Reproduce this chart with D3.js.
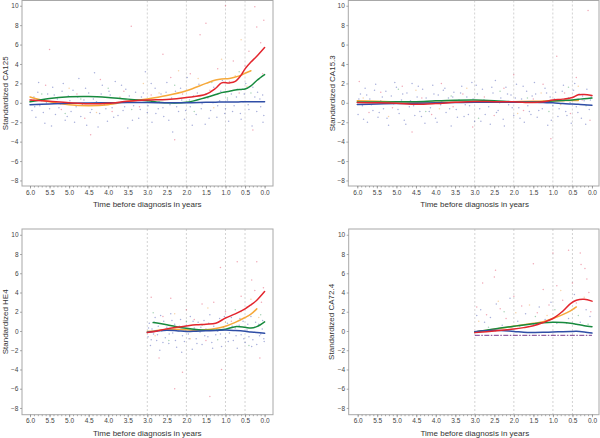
<!DOCTYPE html>
<html><head><meta charset="utf-8">
<script src="https://cdn.jsdelivr.net/npm/d3@7"></script>
<style>body{margin:0;background:#fff}svg{display:block}text{font-family:"Liberation Sans",Arial,sans-serif}</style>
</head><body><svg id="c" width="600" height="438"></svg>
<script>
// ---------- data ----------
const xTickValues = [6.0,5.5,5.0,4.5,4.0,3.5,3.0,2.5,2.0,1.5,1.0,0.5,0.0];
const yTickValues = [-8,-6,-4,-2,0,2,4,6,8,10];
const refLines = [3.0,2.0,1.0,0.5];
const xTitle = "Time before diagnosis in years";
const markerNames = ["Standardized CA125","Standardized CA15.3","Standardized HE4","Standardized CA72.4"];

// CA125
const ca125Time   = [6.0,5.5,5.0,4.5,4.0,3.5,3.0,2.5,2.0,1.5,1.25,1.1,0.9,0.75,0.6,0.5,0.35,0.2,0.0];
const ca125Red    = [0.3,0.15,0.0,-0.1,-0.05,0.15,0.28,0.35,0.55,0.88,1.5,2.05,2.05,2.2,2.85,3.5,4.2,4.8,5.7];
const ca125Orange = [0.6,0.1,-0.2,-0.3,-0.2,0.15,0.4,0.75,1.25,2.0,2.35,2.45,2.5,2.65,2.85,3.05,3.3,null,null];
const ca125Green  = [0.1,0.45,0.62,0.65,0.55,0.38,0.2,0.0,0.05,0.55,0.85,1.05,1.2,1.32,1.38,1.42,1.75,2.3,2.9];
const ca125Blue   = [-0.2,-0.12,-0.05,-0.02,0.0,0.02,0.03,0.0,0.0,0.05,0.07,0.08,0.08,0.08,0.1,0.1,0.1,0.12,0.12];
const ca125DotsBlue = [[5.95,-0.8],[5.9,0.6],[5.85,-1.5],[5.8,1.1],[5.75,-0.3],[5.7,0.2],[5.62,-2.1],[5.55,0.9],[5.5,-0.6],[5.42,1.6],[5.35,-1.2],[5.3,0.4],[5.22,-0.1],[5.15,2.0],[5.1,-1.8],[5.02,0.7],[4.95,-0.9],[4.9,1.3],[4.82,-0.4],[4.75,2.5],[4.7,-1.4],[4.62,0.3],[4.55,-2.3],[4.5,1.0],[4.42,-0.7],[4.35,3.1],[4.3,0.1],[4.22,-1.1],[4.15,1.8],[4.1,-0.2],[4.02,-1.9],[3.95,0.8],[3.9,-0.5],[3.82,2.2],[3.75,-1.3],[3.7,0.5],[3.62,-0.8],[3.55,1.4],[3.5,-2.6],[3.42,0.2],[3.35,-0.3],[3.3,1.1],[3.22,-1.6],[3.15,0.6],[3.05,3.2],[3.0,-1.0],[2.95,0.4],[2.88,-2.0],[2.8,1.5],[2.72,-0.6],[2.65,0.9],[2.58,-1.4],[2.5,2.1],[2.42,-0.2],[2.35,-3.0],[2.28,1.2],[2.2,-0.9],[2.12,0.3],[2.05,-1.7],[1.98,2.6],[1.9,-0.4],[1.82,0.7],[1.75,-1.2],[1.68,1.9],[1.6,-0.1],[1.52,-2.2],[1.45,0.5],[1.38,-0.8],[1.3,1.6],[1.22,-1.5],[1.15,0.2],[1.08,2.3],[1.0,-0.6],[0.92,-1.9],[0.85,0.9],[0.78,-0.3],[0.7,1.4],[0.62,-1.1],[0.55,0.1],[0.48,2.0],[0.4,-0.7],[0.32,-2.4],[0.25,0.6],[0.18,1.1],[0.1,-0.4],[0.05,0.8],[0.02,-1.3],
  [5.97,0.3],[5.88,-0.4],[5.78,2.1],[5.66,-1.0],[5.58,0.0],[5.45,-2.4],[5.38,0.8],[5.26,-0.5],[5.18,1.2],[5.05,-1.4],[4.98,0.2],[4.86,-2.0],[4.78,0.6],[4.66,-0.2],[4.58,1.5],[4.46,-1.0],[4.38,0.4],[4.26,-2.5],[4.18,0.9],[4.06,-0.6],[3.98,1.2],[3.86,-1.5],[3.78,0.0],[3.66,1.8],[3.58,-0.4],[3.46,0.7],[3.38,-1.8],[3.26,0.3],[3.18,-0.7],[3.1,1.0],[2.98,-0.3],[2.9,2.0],[2.78,-1.1],[2.7,0.1],[2.6,-0.5],[2.52,1.1],[2.45,-1.8],[2.38,0.5],[2.25,-0.4],[2.15,1.5],[2.02,-0.8],[1.92,0.3],[1.85,-2.3],[1.72,1.0],[1.62,-0.6],[1.5,0.9],[1.42,-1.6],[1.32,0.0],[1.2,-0.3],[1.12,1.2],[1.02,-1.1],[0.95,0.3],[0.82,-0.9],[0.72,0.6],[0.6,-1.7],[0.52,0.9],[0.42,-0.2],[0.3,1.6],[0.2,-0.9],[0.12,0.4],[0.04,-2.0]];
const ca125DotsRed = [[5.9,0.3],[5.6,1.8],[5.5,5.5],[5.2,-0.7],[4.8,0.9],[4.6,-1.6],[4.45,-3.3],[4.2,2.4],[3.9,-0.9],[3.6,1.2],[3.41,7.9],[3.2,-0.4],[2.9,0.8],[2.6,5.0],[2.4,2.6],[2.3,-3.8],[2.1,0.9],[1.9,3.0],[1.65,7.0],[1.5,8.2],[1.4,1.3],[1.2,3.5],[1.0,10.0],[0.9,2.2],[0.8,4.3],[0.65,1.0],[0.5,3.8],[0.4,5.3],[0.3,-2.8],[0.25,9.9],[0.2,7.8],[0.1,6.2],[0.05,3.0],[0.02,8.5]];
const ca125DotsOrange = [[5.8,-0.2],[5.0,1.5],[4.3,-1.0],[3.7,0.6],[3.1,2.0],[2.7,1.0],[2.2,3.3],[1.7,2.5],[1.3,-0.5],[1.1,4.5],[0.75,2.8],[0.6,6.5],[0.45,1.7]];
const ca125DotsGreen = [[5.7,0.9],[5.1,-1.1],[4.7,0.4],[4.0,1.5],[3.4,-0.7],[2.8,0.1],[2.3,1.8],[1.8,-0.9],[1.35,2.1],[0.95,0.5],[0.65,3.2],[0.35,1.0],[0.15,2.4]];

// CA15.3
const ca153Time   = [6.0,5.5,5.0,4.5,4.0,3.5,3.0,2.5,2.0,1.5,1.25,1.0,0.75,0.5,0.35,0.2,0.0];
const ca153Red    = [0.03,0.0,-0.05,-0.15,-0.08,0.05,0.14,0.12,0.1,0.02,0.1,0.28,0.38,0.55,0.82,0.85,0.75];
const ca153Orange = [0.22,0.15,0.1,0.07,0.05,0.05,0.08,0.1,0.12,0.16,0.18,0.2,0.22,0.24,0.25,null,null];
const ca153Green  = [0.08,0.08,0.1,0.12,0.2,0.26,0.28,0.22,0.12,0.08,0.12,0.18,0.24,0.3,0.36,0.42,0.5];
const ca153Blue   = [-0.17,-0.12,-0.08,-0.05,0.0,0.03,0.06,0.05,0.07,0.05,0.02,0.0,-0.08,-0.13,-0.16,-0.2,-0.25];
const ca153DotsBlue = [[5.98,-1.2],[5.92,0.9],[5.87,-0.3],[5.8,1.5],[5.74,-2.0],[5.68,0.4],[5.6,-0.8],[5.53,1.9],[5.47,-1.5],[5.4,0.2],[5.33,-0.6],[5.27,1.2],[5.2,-2.3],[5.13,0.7],[5.07,-0.1],[5.0,1.6],[4.93,-1.1],[4.87,0.3],[4.8,-1.8],[4.73,1.0],[4.67,-0.4],[4.6,2.0],[4.53,-1.3],[4.47,0.6],[4.4,-0.9],[4.33,1.4],[4.27,-2.1],[4.2,0.1],[4.13,-0.5],[4.07,1.8],[4.0,-1.6],[3.93,0.8],[3.87,-0.2],[3.8,1.3],[3.73,-1.0],[3.67,0.5],[3.6,-2.4],[3.53,1.1],[3.47,-0.7],[3.4,0.3],[3.33,1.7],[3.27,-1.4],[3.2,0.6],[3.13,-0.3],[3.07,2.1],[3.0,-1.9],[2.93,0.9],[2.87,-0.6],[2.8,1.4],[2.73,-1.2],[2.67,0.2],[2.6,-2.2],[2.53,1.0],[2.47,2.3],[2.4,-0.8],[2.33,0.5],[2.27,-1.7],[2.2,1.6],[2.13,-0.2],[2.07,0.8],[2.0,-1.3],[1.93,1.9],[1.87,-0.5],[1.8,0.4],[1.73,-2.0],[1.67,1.2],[1.6,-0.9],[1.53,0.7],[1.47,2.1],[1.4,-1.5],[1.33,0.1],[1.27,-0.6],[1.2,1.5],[1.13,-2.3],[1.07,0.6],[1.0,-0.3],[0.93,1.1],[0.87,-1.4],[0.8,0.3],[0.73,1.8],[0.67,-0.9],[0.6,0.5],[0.53,-2.1],[0.47,1.3],[0.4,-0.4],[0.33,0.9],[0.27,-1.6],[0.2,0.2],[0.13,1.4],[0.07,-0.7],[0.02,0.6],
  [5.96,0.4],[5.84,-1.7],[5.76,0.8],[5.64,-0.2],[5.56,1.3],[5.44,-1.0],[5.36,0.6],[5.24,-1.6],[5.16,0.0],[5.04,2.1],[4.96,-0.7],[4.84,0.9],[4.76,-2.2],[4.64,0.2],[4.56,-0.3],[4.44,1.7],[4.36,-1.4],[4.24,0.5],[4.16,-0.9],[4.04,0.9],[3.96,-2.0],[3.84,0.1],[3.76,1.5],[3.64,-0.6],[3.56,0.6],[3.44,-1.5],[3.36,1.0],[3.24,-0.2],[3.16,-1.2],[3.04,0.4],[2.96,1.8],[2.84,-1.9],[2.76,0.3],[2.64,-0.4],[2.56,1.6],[2.44,-1.0],[2.36,0.0],[2.24,-2.4],[2.16,0.9],[2.04,-0.5],[1.96,0.5],[1.84,-1.6],[1.76,1.7],[1.64,-0.3],[1.56,-1.2],[1.44,0.9],[1.36,-0.8],[1.24,0.2],[1.16,1.0],[1.04,-1.8],[0.96,0.4],[0.84,-0.6],[0.76,1.2],[0.64,-1.3],[0.56,0.0],[0.44,2.0],[0.36,-1.0],[0.24,0.7],[0.16,-2.2],[0.04,0.3]];
const ca153DotsRed = [[5.95,2.2],[5.7,-1.0],[5.4,1.1],[5.1,-0.5],[4.85,1.7],[4.6,-3.0],[4.35,0.5],[4.1,-1.2],[3.85,2.0],[3.55,-0.4],[3.3,0.9],[3.05,-2.5],[2.75,0.6],[2.5,-1.3],[2.25,1.5],[2.0,2.9],[1.75,-0.8],[1.5,0.4],[1.25,1.9],[1.05,-3.7],[0.9,4.8],[0.7,1.0],[0.55,-1.1],[0.4,2.6],[0.25,0.3],[0.1,9.5],[0.05,-1.8]];
const ca153DotsOrange = [[5.85,0.5],[5.2,-1.4],[4.5,1.3],[3.9,-0.6],[3.2,1.5],[2.6,0.1],[1.9,-1.1],[1.3,1.0],[0.8,-0.2],[0.35,1.7]];
const ca153DotsGreen = [[5.6,0.0],[4.95,1.4],[4.25,-0.9],[3.6,0.7],[2.9,-1.6],[2.35,1.2],[1.65,0.5],[1.1,-0.9],[0.6,1.6],[0.15,-0.3]];

// HE4
const he4Time   = [3.0,2.85,2.75,2.5,2.25,2.0,1.75,1.5,1.25,1.0,0.75,0.5,0.35,0.2,0.0];
const he4Red    = [-0.17,-0.08,0.0,0.22,0.38,0.52,0.64,0.7,0.8,1.35,1.78,2.3,2.72,3.2,4.1];
const he4Orange = [-0.05,0.0,0.05,0.15,0.17,0.12,0.08,0.12,0.25,0.5,0.9,1.4,1.75,2.3,null];
const he4Green  = [null,0.87,0.82,0.65,0.45,0.28,0.15,0.08,0.08,0.18,0.45,0.38,0.3,0.45,0.95];
const he4Blue   = [-0.14,-0.05,0.0,0.08,0.03,-0.05,-0.02,0.02,0.05,0.1,0.05,-0.03,-0.1,-0.15,-0.24];
const he4DotsBlue = [[2.98,-0.6],[2.95,0.8],[2.92,-1.5],[2.88,0.2],[2.84,-0.3],[2.8,1.4],[2.76,-1.0],[2.72,0.5],[2.68,-2.0],[2.63,0.0],[2.58,1.0],[2.54,-0.7],[2.5,0.4],[2.45,-1.3],[2.4,1.8],[2.35,-0.2],[2.3,0.7],[2.25,-1.7],[2.2,0.1],[2.15,1.2],[2.1,-0.5],[2.05,-1.1],[2.0,0.6],[1.95,-0.3],[1.9,1.5],[1.85,-1.9],[1.8,0.3],[1.75,-0.8],[1.7,0.9],[1.65,-0.1],[1.6,-1.4],[1.55,1.1],[1.5,0.2],[1.45,-0.6],[1.4,1.7],[1.35,-1.2],[1.3,0.5],[1.25,-0.4],[1.2,0.0],[1.15,1.3],[1.1,-1.6],[1.05,0.4],[1.0,-0.7],[0.95,0.8],[0.9,-0.2],[0.85,1.4],[0.8,-1.0],[0.75,0.3],[0.7,-1.8],[0.65,0.6],[0.6,-0.4],[0.55,1.0],[0.5,-1.2],[0.45,0.1],[0.4,-0.6],[0.35,1.5],[0.3,-0.9],[0.25,0.4],[0.2,-1.4],[0.15,0.7],[0.1,-0.3],[0.05,1.1],[0.02,-0.8],
  [2.97,0.3],[2.9,-0.9],[2.82,0.9],[2.74,-0.4],[2.66,1.6],[2.6,-1.2],[2.52,0.2],[2.44,-0.3],[2.37,1.1],[2.28,-1.0],[2.18,0.5],[2.12,-2.2],[2.02,0.0],[1.93,-0.8],[1.83,1.0],[1.73,-1.3],[1.63,0.4],[1.53,-0.5],[1.43,0.8],[1.33,-1.8],[1.23,0.2],[1.13,-0.3],[1.03,1.5],[0.93,-1.1],[0.83,0.5],[0.73,-0.5],[0.63,1.3],[0.53,-0.8],[0.43,0.7],[0.33,-1.6],[0.23,0.9],[0.13,-0.5],[0.06,0.2],[0.01,-1.1]];
const he4DotsRed = [[2.9,3.5],[2.7,-2.8],[2.6,1.5],[2.4,3.4],[2.3,-6.0],[2.1,-4.3],[2.0,2.2],[1.8,1.2],[1.6,2.8],[1.5,-1.0],[1.4,-6.8],[1.3,3.0],[1.13,6.6],[1.1,-4.0],[1.0,2.0],[0.85,1.0],[0.7,7.2],[0.6,3.6],[0.45,2.5],[0.33,5.3],[0.25,4.2],[0.2,7.2],[0.12,-2.8],[0.08,3.0],[0.03,4.5]];
const he4DotsOrange = [[2.8,-0.5],[2.3,1.8],[1.9,-0.8],[1.45,2.4],[1.0,0.9],[0.6,2.0],[0.35,3.3],[0.15,1.4]];
const he4DotsGreen = [[2.85,1.9],[2.45,-1.0],[2.0,1.0],[1.6,0.6],[1.2,-0.9],[0.75,2.2],[0.4,-1.5],[0.1,1.7]];

// CA72.4
const ca724Time   = [3.0,2.5,2.0,1.75,1.5,1.25,1.0,0.75,0.55,0.4,0.2,0.0];
const ca724Red    = [-0.17,0.0,0.2,0.35,0.55,0.88,1.3,2.05,2.85,3.2,3.3,3.1];
const ca724Orange = [-0.1,0.18,0.5,0.65,0.8,0.95,1.3,1.7,2.1,2.5,null,null];
const ca724Green  = [-0.1,0.22,0.5,0.62,0.75,0.86,0.9,0.88,0.8,0.7,0.55,0.45];
const ca724Blue   = [-0.07,0.08,-0.05,-0.13,-0.15,-0.14,-0.1,-0.08,-0.05,-0.03,-0.1,-0.22];
const ca724LimitTime = [3.0,0.0];
const ca724Limit = [-0.45,-0.45];
const ca724DotsBlue = [[2.95,1.6],[2.85,2.2],[2.75,0.9],[2.6,1.4],[2.45,2.8],[2.3,0.6],[2.1,3.4],[1.9,1.0],[1.7,1.8],[1.5,0.7],[1.35,2.5],[1.2,1.2],[1.05,3.0],[0.9,0.8],[0.75,2.0],[0.6,1.3],[0.45,3.8],[0.3,0.9],[0.15,2.2],[0.05,1.5]];
const ca724DotsRed = [[2.95,2.5],[2.8,5.0],[2.7,1.7],[2.5,5.6],[2.47,6.3],[2.35,2.3],[2.2,1.3],[2.0,3.6],[1.8,2.6],[1.5,7.0],[1.4,1.9],[1.25,4.3],[1.1,2.7],[1.0,8.1],[0.9,4.7],[0.75,3.2],[0.6,8.4],[0.5,5.0],[0.4,2.9],[0.3,8.1],[0.28,6.9],[0.18,6.5],[0.13,5.4],[0.08,4.0],[0.03,2.0]];
const ca724DotsOrange = [[2.9,1.0],[2.4,3.1],[1.95,1.9],[1.6,2.7],[1.15,1.6],[0.8,4.2],[0.45,2.3],[0.2,3.5]];
const ca724DotsGreen = [[2.65,0.4],[2.25,2.0],[1.85,0.5],[1.45,1.5],[0.95,2.2],[0.65,0.8],[0.35,1.6],[0.1,0.7]];

// ---------- styling / layout ----------
const colors = {red:"#e3262e", orange:"#f6a93b", green:"#178a3e", blue:"#2f4ea6"};
const dotColors = {red:"#e04060", orange:"#f0a040", green:"#40a060", blue:"#4050b0"};

const panels = [
  {name:markerNames[0], x0:22, x1:273, y0:0.5, y1:186, xd:[6.205,-0.215], yd:[-8.57,10.54], labelX:8, time:ca125Time,
   lines:{orange:ca125Orange, green:ca125Green, blue:ca125Blue, red:ca125Red},
   dots:{blue:ca125DotsBlue, green:ca125DotsGreen, orange:ca125DotsOrange, red:ca125DotsRed}},
  {name:markerNames[1], x0:348.3, x1:599, y0:0.5, y1:186, xd:[6.23,-0.18], yd:[-8.57,10.54], labelX:334.5, time:ca153Time,
   lines:{orange:ca153Orange, green:ca153Green, blue:ca153Blue, red:ca153Red},
   dots:{blue:ca153DotsBlue, green:ca153DotsGreen, orange:ca153DotsOrange, red:ca153DotsRed}},
  {name:markerNames[2], x0:22, x1:273, y0:229, y1:414.7, xd:[6.205,-0.215], yd:[-8.7,10.6], labelX:8, time:he4Time,
   lines:{orange:he4Orange, green:he4Green, blue:he4Blue, red:he4Red},
   dots:{blue:he4DotsBlue, green:he4DotsGreen, orange:he4DotsOrange, red:he4DotsRed}},
  {name:markerNames[3], x0:348.7, x1:599, y0:229, y1:414.7, xd:[6.23,-0.18], yd:[-8.7,10.6], labelX:333.5, time:ca724Time,
   lines:{orange:ca724Orange, green:ca724Green, blue:ca724Blue, red:ca724Red},
   dots:{blue:ca724DotsBlue, green:ca724DotsGreen, orange:ca724DotsOrange, red:ca724DotsRed},
   limit:{t:ca724LimitTime, v:ca724Limit}}
];

const svg = d3.select("#c");
svg.append("rect").attr("width",600).attr("height",438).attr("fill","#fff");

panels.forEach((p,i)=>{
  const x = d3.scaleLinear().domain(p.xd).range([p.x0,p.x1]);
  const y = d3.scaleLinear().domain(p.yd).range([p.y1,p.y0]);
  const g = svg.append("g");
  const cid = "clip"+i;
  g.append("clipPath").attr("id",cid).append("rect")
    .attr("x",p.x0).attr("y",p.y0).attr("width",p.x1-p.x0).attr("height",p.y1-p.y0);

  // reference lines
  g.selectAll(".ref").data(refLines).enter().append("line")
    .attr("x1",d=>x(d)).attr("x2",d=>x(d)).attr("y1",p.y0).attr("y2",p.y1)
    .attr("stroke","#c8c8c8").attr("stroke-width",0.8).attr("stroke-dasharray","2,2");

  const inner = g.append("g").attr("clip-path",`url(#${cid})`);
  // dots
  ["blue","green","orange","red"].forEach(k=>{
    inner.selectAll(null).data(p.dots[k]).enter().append("circle")
      .attr("cx",d=>x(d[0])).attr("cy",d=>y(d[1])).attr("r",0.75)
      .attr("fill",dotColors[k]).attr("fill-opacity",0.45);
  });
  // limit line
  if(p.limit){
    const pts = p.limit.t.map((t,j)=>[t,p.limit.v[j]]);
    inner.append("path").datum(pts)
      .attr("d",d3.line().x(d=>x(d[0])).y(d=>y(d[1])))
      .attr("fill","none").attr("stroke","#7a3f8f").attr("stroke-width",1)
      .attr("stroke-dasharray","5,1.5,1.5,1.5");
  }
  // smooth curves
  const line = d3.line().defined(d=>d[1]!==null).x(d=>x(d[0])).y(d=>y(d[1])).curve(d3.curveCatmullRom.alpha(0.5));
  ["orange","green","blue","red"].forEach(k=>{
    const pts = p.time.map((t,j)=>[t,p.lines[k][j]]);
    inner.append("path").datum(pts).attr("d",line)
      .attr("fill","none").attr("stroke",colors[k]).attr("stroke-width",1.5)
      .attr("stroke-linejoin","round").attr("stroke-linecap","round");
  });

  // frame
  g.append("rect").attr("x",p.x0).attr("y",p.y0).attr("width",p.x1-p.x0).attr("height",p.y1-p.y0)
    .attr("fill","none").attr("stroke","#a8a8a8").attr("stroke-width",1);

  // x axis major
  g.append("g").attr("transform",`translate(0,${p.y1})`)
    .call(d3.axisBottom(x).tickValues(xTickValues).tickFormat(d3.format(".1f")).tickSize(2.5).tickPadding(1.5));
  // x axis minor
  g.append("g").attr("transform",`translate(0,${p.y1})`)
    .call(d3.axisBottom(x).tickValues(d3.range(0,61).map(v=>v/10)).tickFormat("").tickSize(1.5));
  // y axis
  g.append("g").attr("transform",`translate(${p.x0},0)`)
    .call(d3.axisLeft(y).tickValues(yTickValues).tickFormat(d3.format("d")).tickSize(2).tickPadding(1.5));
  g.selectAll(".domain").remove();
  g.selectAll(".tick line").attr("stroke","#888").attr("stroke-width",0.7);
  g.selectAll(".tick text").attr("fill","#444").style("font-size","6.5px").style("font-family",'"Liberation Sans",Arial,sans-serif');

  // titles
  g.append("text").attr("x",(x(6)+x(0))/2).attr("y",p.y1+21.3).attr("text-anchor","middle")
    .attr("fill","#333").style("font-size","8px").text(xTitle);
  g.append("text").attr("transform",`translate(${p.labelX},${(p.y0+p.y1)/2}) rotate(-90)`)
    .attr("text-anchor","middle").attr("fill","#333").style("font-size","8px").text(p.name);
});
</script>
</body></html>
